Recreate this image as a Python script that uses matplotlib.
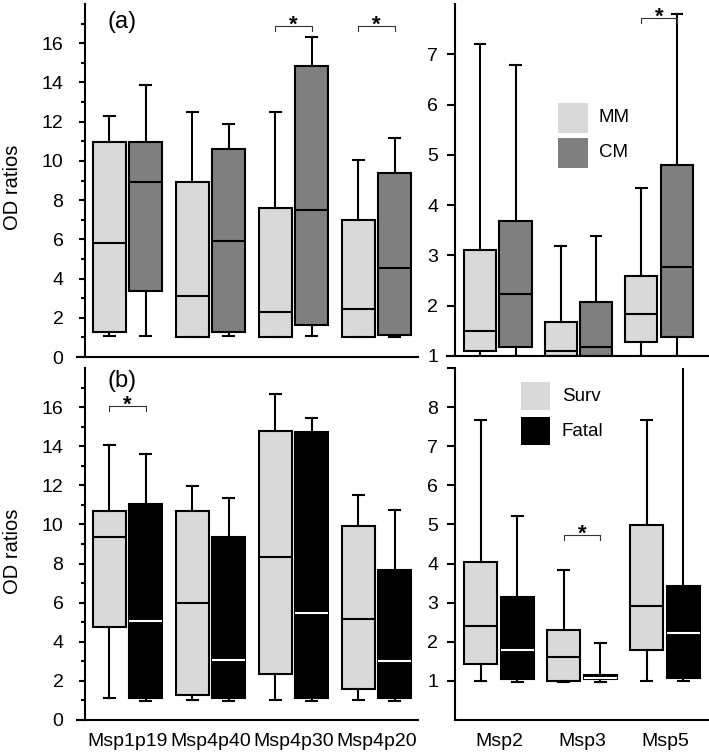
import numpy as np
import matplotlib
matplotlib.use('Agg')
import matplotlib.pyplot as plt
from matplotlib.patches import Rectangle

plt.rcParams['font.family'] = ['Liberation Sans', 'DejaVu Sans']

# data
groups_left = ['Msp1p19', 'Msp4p40', 'Msp4p30', 'Msp4p20']
groups_right = ['Msp2', 'Msp3', 'Msp5']

# (a) MM vs CM, left panel
a_mm_lo = [1.06, 1.0, 1.0, 1.0]
a_mm_q1 = [1.25, 1.02, 1.02, 1.02]
a_mm_med = [5.8, 3.11, 2.27, 2.44]
a_mm_q3 = [10.96, 8.91, 7.6, 6.97]
a_mm_hi = [12.3, 12.47, 12.47, 10.04]
a_cm_lo = [1.06, 1.06, 1.06, 1.02]
a_cm_q1 = [3.38, 1.25, 1.62, 1.14]
a_cm_med = [8.91, 5.93, 7.51, 4.53]
a_cm_q3 = [10.96, 10.59, 14.82, 9.39]
a_cm_hi = [13.88, 11.9, 16.3, 11.19]

# (a) right panel
a2_mm_lo = [1.0, 1.0, 1.0]
a2_mm_q1 = [1.1, 1.0, 1.28]
a2_mm_med = [1.5, 1.1, 1.83]
a2_mm_q3 = [3.11, 1.68, 2.6]
a2_mm_hi = [7.2, 3.18, 4.34]
a2_cm_lo = [1.0, 1.0, 1.0]
a2_cm_q1 = [1.17, 1.0, 1.38]
a2_cm_med = [2.23, 1.17, 2.77]
a2_cm_q3 = [3.69, 2.08, 4.79]
a2_cm_hi = [6.79, 3.39, 7.81]

# (b) Surv vs Fatal, left panel
b_sv_lo = [1.11, 1.02, 1.02, 1.02]
b_sv_q1 = [4.78, 1.28, 2.34, 1.57]
b_sv_med = [9.38, 5.98, 8.32, 5.16]
b_sv_q3 = [10.67, 10.67, 14.8, 9.94]
b_sv_hi = [14.05, 11.99, 16.68, 11.53]
b_ft_lo = [0.97, 0.97, 0.97, 0.97]
b_ft_q1 = [1.11, 1.11, 1.11, 1.11]
b_ft_med = [5.04, 3.07, 5.46, 3.02]
b_ft_q3 = [11.05, 9.38, 14.72, 7.67]
b_ft_hi = [13.58, 11.36, 15.45, 10.76]

# (b) right panel
b2_sv_lo = [1.0, 0.97, 1.0]
b2_sv_q1 = [1.42, 1.0, 1.78]
b2_sv_med = [2.4, 1.61, 2.91]
b2_sv_q3 = [4.05, 2.31, 4.98]
b2_sv_hi = [7.67, 3.84, 7.67]
b2_ft_lo = [0.97, 0.97, 1.0]
b2_ft_q1 = [1.04, 1.04, 1.08]
b2_ft_med = [1.8, 1.08, 2.23]
b2_ft_q3 = [3.14, 1.14, 3.42]
b2_ft_hi = [5.21, 1.98, 9.6]

# significance brackets: (group index, bracket height)
sig_a = [(2, 16.9), (3, 16.9)]
sig_a2 = [(2, 7.73)]
sig_b = [(0, 16.08)]
sig_b2 = [(1, 4.74)]

LIGHT = '#d9d9d9'
DARK = '#7f7f7f'
BLACK = '#000000'
LW = 1.5
OFF = 0.22
W = 0.4


def make_stats(lo, q1, med, q3, hi):
    out = []
    for i in range(len(med)):
        out.append({'whislo': lo[i], 'q1': q1[i], 'med': med[i], 'q3': q3[i],
                    'whishi': hi[i], 'fliers': []})
    return out


def draw_boxes(ax, stats, pos, face, medcol):
    ax.bxp(stats, positions=pos, widths=W, capwidths=0.13, patch_artist=True,
           showfliers=False, manage_ticks=False,
           boxprops=dict(facecolor=face, edgecolor='black', linewidth=LW),
           medianprops=dict(color=medcol, linewidth=LW),
           whiskerprops=dict(color='black', linewidth=LW),
           capprops=dict(color='black', linewidth=LW))


def style_axis(ax, spine_x, tlen, tpad):
    for s in ['top', 'right']:
        ax.spines[s].set_visible(False)
    ax.spines['left'].set_linewidth(LW)
    ax.spines['bottom'].set_linewidth(LW)
    ax.spines['left'].set_position(('axes', spine_x))
    ax.tick_params(axis='y', direction='out', length=tlen, width=LW, labelsize=14, pad=tpad)
    ax.tick_params(axis='y', which='minor', direction='out', length=3, width=LW)
    ax.tick_params(axis='x', length=0, labelsize=14, pad=9.5)


def brackets(ax, sig, dy):
    for g, h in sig:
        x0, x1 = g - OFF, g + OFF
        ax.plot([x0, x0, x1, x1], [h - dy, h, h, h - dy], color='#333333', lw=0.8, clip_on=False)
        ax.annotate('*', xy=(g, h), xytext=(0, -3.5), textcoords='offset points',
                    ha='center', va='baseline', fontsize=16, fontweight='bold')


def key(ax, labels, colors, x0, top, w, h, step, tx):
    # simple legend: square swatches with labels beside them
    for i in range(len(labels)):
        y = top - h - i * step
        ax.add_patch(Rectangle((x0, y), w, h, transform=ax.transAxes,
                               facecolor=colors[i], edgecolor='none', clip_on=False))
        ax.text(tx, y + h / 2, labels[i], transform=ax.transAxes, fontsize=13.5,
                va='center', ha='left')


fig = plt.figure(figsize=(7.09, 7.54), dpi=100)
H = 754.0
Wd = 709.0
ax_a = fig.add_axes([77 / Wd, 1 - 357 / H, 341 / Wd, 353 / H])
ax_a2 = fig.add_axes([447 / Wd, 1 - 356 / H, 262 / Wd, 352 / H])
ax_b = fig.add_axes([77 / Wd, 1 - 720 / H, 341 / Wd, 352 / H])
ax_b2 = fig.add_axes([455 / Wd, 1 - 720 / H, 254 / Wd, 352 / H])

xl = np.arange(len(groups_left))
xr = np.arange(len(groups_right))

# panel (a)
draw_boxes(ax_a, make_stats(a_mm_lo, a_mm_q1, a_mm_med, a_mm_q3, a_mm_hi), xl - OFF, LIGHT, 'black')
draw_boxes(ax_a, make_stats(a_cm_lo, a_cm_q1, a_cm_med, a_cm_q3, a_cm_hi), xl + OFF, DARK, 'black')
draw_boxes(ax_a2, make_stats(a2_mm_lo, a2_mm_q1, a2_mm_med, a2_mm_q3, a2_mm_hi), xr - OFF, LIGHT, 'black')
draw_boxes(ax_a2, make_stats(a2_cm_lo, a2_cm_q1, a2_cm_med, a2_cm_q3, a2_cm_hi), xr + OFF, DARK, 'black')

# panel (b)
draw_boxes(ax_b, make_stats(b_sv_lo, b_sv_q1, b_sv_med, b_sv_q3, b_sv_hi), xl - OFF, LIGHT, 'black')
draw_boxes(ax_b, make_stats(b_ft_lo, b_ft_q1, b_ft_med, b_ft_q3, b_ft_hi), xl + OFF, BLACK, 'white')
draw_boxes(ax_b2, make_stats(b2_sv_lo, b2_sv_q1, b2_sv_med, b2_sv_q3, b2_sv_hi), xr - OFF, LIGHT, 'black')
draw_boxes(ax_b2, make_stats(b2_ft_lo, b2_ft_q1, b2_ft_med, b2_ft_q3, b2_ft_hi), xr + OFF, BLACK, 'white')

# limits and ticks
for ax in [ax_a, ax_b]:
    ax.set_xlim(-0.61, 3.5)
    ax.set_ylim(0, 18)
    ax.set_yticks(np.arange(0, 17, 2))
    ax.set_yticks(np.arange(1, 18, 2), minor=True)
    style_axis(ax, 0.0235, 4.5, 11)
    ax.set_ylabel('OD ratios', fontsize=14.5)
    ax.yaxis.set_label_coords(-0.161, 0.48)

ax_a2.set_xlim(-0.63, 2.62)
ax_a2.set_ylim(1, 8)
ax_a2.set_yticks(np.arange(1, 8))
style_axis(ax_a2, 0.03, 5.5, 6.5)

ax_b2.set_xlim(-0.53, 2.53)
ax_b2.set_ylim(0, 9)
ax_b2.set_yticks(np.arange(1, 10))
ax_b2.set_yticklabels([str(v) for v in range(1, 9)] + [''])
style_axis(ax_b2, 0.0, 5.5, 6.5)

ax_a.set_xticks(xl)
ax_a.set_xticklabels([])
ax_a2.set_xticks(xr)
ax_a2.set_xticklabels([])
ax_b.set_xticks(xl)
ax_b.set_xticklabels(groups_left)
ax_b2.set_xticks(xr)
ax_b2.set_xticklabels(groups_right)

# brackets with stars
brackets(ax_a, sig_a, 0.3)
brackets(ax_a2, sig_a2, 0.11)
brackets(ax_b, sig_b, 0.3)
brackets(ax_b2, sig_b2, 0.13)

ax_a.text(0.088, 0.95, '(a)', transform=ax_a.transAxes, fontsize=17, va='center', ha='left')
ax_b.text(0.088, 0.962, '(b)', transform=ax_b.transAxes, fontsize=17, va='center', ha='left')

# legends
key(ax_a2, ['MM', 'CM'], [LIGHT, DARK], 0.424, 0.719, 0.1145, 0.0852, 0.0994, 0.58)
key(ax_b2, ['Surv', 'Fatal'], [LIGHT, BLACK], 0.26, 0.96, 0.114, 0.08, 0.0994, 0.421)

fig.savefig('out.png', dpi=100)
